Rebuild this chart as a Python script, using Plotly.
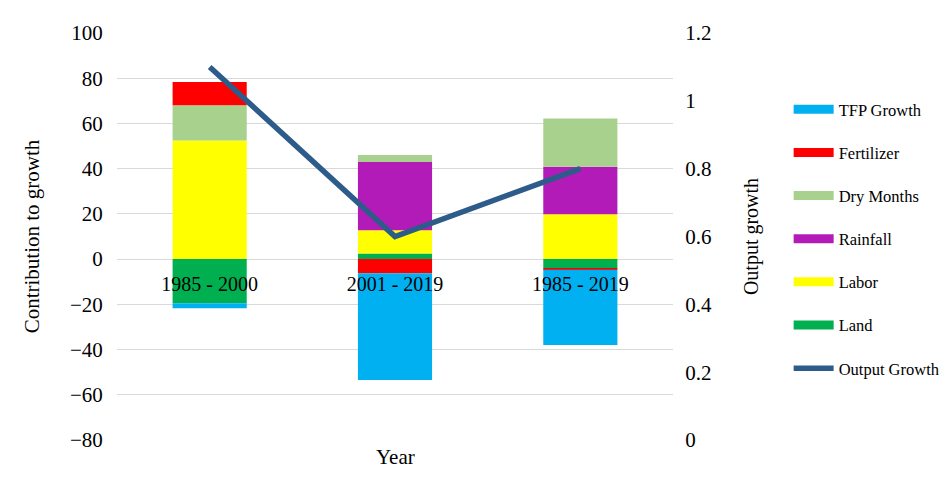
import plotly.graph_objects as go

periods = ["1985 - 2000", "2001 - 2019", "1985 - 2019"]
land = [-19.5, 2.5, -4.0]
labor = [52.5, 10.3, 19.8]
rainfall = [0.0, 30.2, 21.0]
dry_months = [15.5, 3.0, 21.4]
fertilizer = [10.3, -6.3, -0.7]
tfp_growth = [-2.2, -47.2, -33.3]
output_growth = [1.1, 0.6, 0.8]

left_ticks = [-80, -60, -40, -20, 0, 20, 40, 60, 80, 100]
right_ticks = [0, 0.2, 0.4, 0.6, 0.8, 1.0, 1.2]
right_labels = ["0", "0.2", "0.4", "0.6", "0.8", "1", "1.2"]

FONT = "Liberation Serif, Times New Roman, serif"

series = [
    ("Land", land, "#00B050", 6),
    ("Labor", labor, "#FFFF00", 5),
    ("Rainfall", rainfall, "#B31BB8", 4),
    ("Dry Months", dry_months, "#A9D18E", 3),
    ("Fertilizer", fertilizer, "#FF0000", 2),
    ("TFP Growth", tfp_growth, "#00B0F0", 1),
]

fig = go.Figure()
for name, vals, col, rank in series:
    fig.add_trace(go.Bar(x=periods, y=vals, name=name, marker_color=col,
                         marker_line_width=0, width=0.4, showlegend=False))
    # legend proxy (wide rectangle glyph)
    fig.add_trace(go.Scatter(x=[None], y=[None], mode="lines", name=name,
                             line=dict(color=col, width=9), legendrank=rank,
                             legendgroup=name, showlegend=True))

fig.add_trace(go.Scatter(x=periods, y=output_growth, mode="lines", name="Output Growth",
                         line=dict(color="#2E5C8A", width=5.5), yaxis="y2",
                         legendrank=7, legendgroup="Output Growth"))

fig.update_layout(
    width=952, height=490,
    margin=dict(l=117, r=279, t=33, b=50, autoexpand=False),
    paper_bgcolor="white", plot_bgcolor="white",
    barmode="relative",
    font=dict(family=FONT, size=20, color="black"),
    xaxis=dict(
        type="category", anchor="free", position=80 / 180, automargin=False,
        showline=False, showgrid=False, zeroline=False,
        ticks="outside", ticklen=7, tickcolor="rgba(0,0,0,0)",
        tickfont=dict(family=FONT, size=20),
    ),
    yaxis=dict(
        range=[-80, 100], tickvals=left_ticks, showgrid=True, automargin=False,
        gridcolor="#D9D9D9", gridwidth=1, zeroline=False, showline=False,
        ticks="outside", ticklen=9, tickcolor="rgba(0,0,0,0)",
        tickfont=dict(family=FONT, size=21),
        title=dict(text="Contribution to growth", font=dict(family=FONT, size=21), standoff=24),
    ),
    yaxis2=dict(
        range=[0, 1.2], overlaying="y", side="right", tickvals=right_ticks, automargin=False,
        ticktext=right_labels, showgrid=False, zeroline=False, showline=False,
        ticks="outside", ticklen=7, tickcolor="rgba(0,0,0,0)",
        tickfont=dict(family=FONT, size=21),
        title=dict(text="Output growth", font=dict(family=FONT, size=20), standoff=33),
    ),
    legend=dict(
        x=1.208, xanchor="left", y=0.855, yanchor="top",
        font=dict(family=FONT, size=16.5), tracegroupgap=18.7,
        bgcolor="rgba(0,0,0,0)", itemwidth=40,
    ),
    annotations=[dict(text="Year", x=0.5, xref="paper", y=-0.042, yref="paper",
                      yanchor="middle", showarrow=False, font=dict(family=FONT, size=21))],
)

fig.write_html("out.html")
